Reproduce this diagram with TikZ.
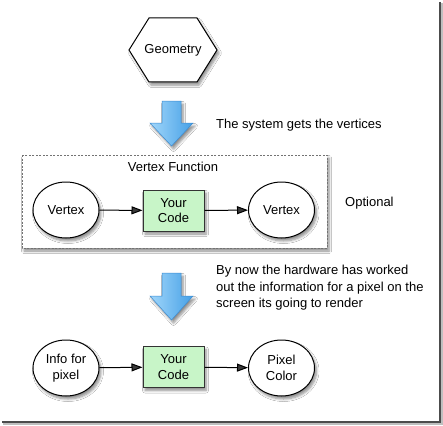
\documentclass[tikz,border=0pt]{standalone}
\usepackage{fontspec}
\setmainfont{Liberation Sans}
\usetikzlibrary{shapes.geometric,shadows,shadows.blur,arrows.meta}
\definecolor{codegreen}{RGB}{200,245,200}
\definecolor{arrowlight}{RGB}{160,214,250}
\definecolor{arrowdark}{RGB}{70,160,230}
\definecolor{arrowline}{RGB}{60,140,210}
\tikzset{
  myshadow/.style={blur shadow={shadow xshift=2pt, shadow yshift=-3pt, shadow blur radius=2.5pt, shadow blur steps=6, shadow opacity=45}},
  txt/.style={font=\fontsize{13}{15.5}\selectfont},
  oval/.style={ellipse, draw=black, line width=1pt, fill=white, minimum width=66pt, minimum height=56pt, inner sep=0pt, align=center, txt, myshadow},
  codebox/.style={rectangle, draw=black!80, line width=1pt, fill=codegreen, minimum width=61pt, minimum height=41pt, inner sep=0pt, align=center, txt, myshadow},
  conn/.style={line width=1pt, -{Triangle[length=11pt,width=8pt]}},
  bigarrow/.style={draw=arrowline, line width=0.5pt, left color=arrowlight, right color=arrowdark, myshadow},
  plain/.style={txt, inner sep=0pt, anchor=west, align=left}
}
\begin{document}
\begin{tikzpicture}[x=1pt, y=-1pt]
\useasboundingbox[fill=white] (0,0) rectangle (443,425);
% frame shadow
\draw[black!25, line width=1.5pt] (442,3) -- (442,424) -- (3,424);
\draw[black!70, line width=1.4pt] (440,2) -- (440,422) -- (2,422);

% hexagon
\path[draw=black, line width=1pt, fill=white, myshadow] (129,50) -- (149,18) -- (197,18) -- (217,50) -- (197,82) -- (149,82) -- cycle;
\node[txt, inner sep=0pt] (geo) at (173,50) {Geometry};

% arrow 1
\path[bigarrow] (162,101) -- (181,101) -- (181,123) -- (193,123) -- (171.5,146) -- (150,123) -- (162,123) -- cycle;
\node[plain] (t1) at (216,125) {The system gets the vertices};

% dashed box
\path[draw=black!55, dash pattern=on 2pt off 1.5pt, line width=0.7pt, fill=white, myshadow] (22,155) rectangle (327,248);
\node[txt, inner sep=0pt] (vf) at (173,167) {Vertex Function};
\node[oval] (v1) at (66,210) {Vertex};
\node[codebox] (c1) at (173.5,210.5) {Your\\Code};
\node[oval] (v2) at (281.5,210) {Vertex};
\draw[conn] (v1) -- (c1);
\draw[conn] (c1) -- (v2);
\node[plain] (opt) at (345,203) {Optional};

% arrow 2
\path[bigarrow] (162,273) -- (181,273) -- (181,296) -- (193,296) -- (171.5,320) -- (150,296) -- (162,296) -- cycle;
\node[plain, font=\fontsize{13}{16.5}\selectfont, anchor=north west] (t2) at (216,265) {By now the hardware has worked\\out the information for a pixel on the\\screen its going to render};

% bottom row
\node[oval] (p1) at (66,368) {Info for\\pixel};
\node[codebox] (c2) at (173.5,367) {Your\\Code};
\node[oval] (p2) at (281.5,368) {Pixel\\Color};
\draw[conn] (p1) -- (c2);
\draw[conn] (c2) -- (p2);
\end{tikzpicture}
\end{document}
